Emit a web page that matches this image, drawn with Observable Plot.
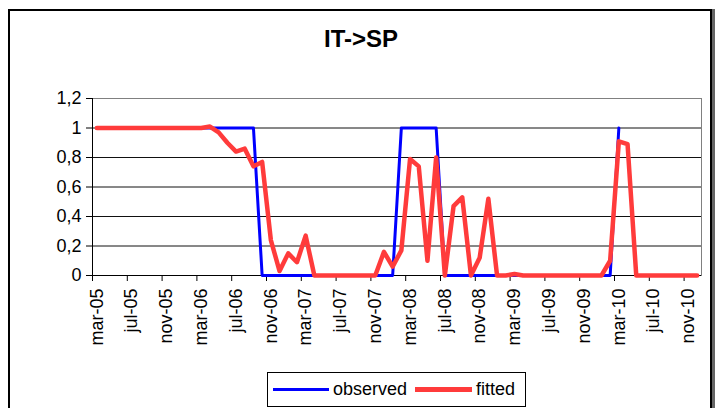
<!DOCTYPE html>
<html>
<head>
<meta charset="utf-8">
<script src="https://cdn.jsdelivr.net/npm/d3@7"></script>
<script src="https://cdn.jsdelivr.net/npm/@observablehq/plot@0.6"></script>
<style>
html, body { margin: 0; padding: 0; background: #fff; width: 724px; height: 408px; overflow: hidden;
  font-family: "Liberation Sans", Arial, sans-serif; }
#frame { position: absolute; left: 8px; top: 9px; width: 704px; height: 430px; border: 2px solid #000;
  box-sizing: border-box; box-shadow: 3px 0 0 #666; }
#title { position: absolute; left: 0; width: 722px; top: 27px; line-height: 24px; text-align: center;
  font-weight: bold; font-size: 24px; color: #000; }
#chart { position: absolute; left: 0; top: 0; }
#legend { position: absolute; left: 267px; top: 372px; width: 259px; height: 35px; border: 1px solid #000;
  box-sizing: border-box; background: #fff; }
.sw { position: absolute; top: 15px; }
.lt { position: absolute; top: 6px; font-size: 18px; line-height: 20px; color: #000; }
</style>
</head>
<body>
<div id="frame"></div>
<div id="title">IT-&gt;SP</div>
<div id="chart"></div>
<div id="legend">
  <div class="sw" style="left:5px;width:56px;height:3px;background:#0000ff;"></div>
  <div class="lt" style="left:65px;">observed</div>
  <div class="sw" style="left:147px;width:57px;height:5px;top:14px;background:#ff3b3b;"></div>
  <div class="lt" style="left:208px;">fitted</div>
</div>
<script>
const months = [
  "mar-05","abr-05","may-05","jun-05","jul-05","ago-05","sep-05","oct-05","nov-05","dic-05",
  "ene-06","feb-06","mar-06","abr-06","may-06","jun-06","jul-06","ago-06","sep-06","oct-06","nov-06","dic-06",
  "ene-07","feb-07","mar-07","abr-07","may-07","jun-07","jul-07","ago-07","sep-07","oct-07","nov-07","dic-07",
  "ene-08","feb-08","mar-08","abr-08","may-08","jun-08","jul-08","ago-08","sep-08","oct-08","nov-08","dic-08",
  "ene-09","feb-09","mar-09","abr-09","may-09","jun-09","jul-09","ago-09","sep-09","oct-09","nov-09","dic-09",
  "ene-10","feb-10","mar-10","abr-10","may-10","jun-10","jul-10","ago-10","sep-10","oct-10","nov-10","dic-10"
];
const observed = [
  1,1,1,1,1,1,1,1,1,1, 1,1,1,1,1,1,1,1,1,
  0,0,0,0,0,0,0,0,0,0, 0,0,0,0,0,0,
  1,1,1,1,1,
  0,0,0,0,0,0,0,0,0,0, 0,0,0,0,0,0,0,0,0,0,
  1,
  null,null,null,null,null,null,null,null,null
];
const fitted = [
  1,1,1,1,1,1,1,1,1,1,1,1,1,
  1.01,0.97,0.90,0.84,0.86,0.74,0.77,0.24,0.03,0.15,0.09,0.27,
  0,0,0,0,0,0,0,0,
  0.16,0.06,0.17,0.79,0.74,0.10,0.80,
  0,0.47,0.53,0,0.12,0.52,0,0,0.01,
  0,0,0,0,0,0,0,0,0,0,
  0.10,0.91,0.89,
  0,0,0,0,0,0,0,0
];
const tickLabels = ["mar-05","jul-05","nov-05","mar-06","jul-06","nov-06","mar-07","jul-07","nov-07",
  "mar-08","jul-08","nov-08","mar-09","jul-09","nov-09","mar-10","jul-10","nov-10"];
const yTicks = [0, 0.2, 0.4, 0.6, 0.8, 1, 1.2];
const yLabels = ["0", "0,2", "0,4", "0,6", "0,8", "1", "1,2"];

const rows = months.map((m, i) => ({ i, m, xc: i + 0.5, obs: observed[i], fit: fitted[i] }));
const labelPos = tickLabels.map(l => months.indexOf(l) + 0.5);
const labelMap = new Map(tickLabels.map((l, k) => [labelPos[k], l]));
const boundaryTicks = tickLabels.map(l => months.indexOf(l));
const yLabelMap = new Map(yTicks.map((t, k) => [t, yLabels[k]]));

const chart = Plot.plot({
  width: 724, height: 360,
  marginLeft: 92, marginRight: 23, marginTop: 98, marginBottom: 85,
  style: { fontFamily: '"Liberation Sans", Arial, sans-serif', fontSize: "18px", color: "#000", background: "transparent", overflow: "visible" },
  x: { domain: [0, months.length], label: null },
  y: { domain: [0, 1.2], label: null },
  marks: [
    Plot.frame({ stroke: "#808080" }),
    Plot.ruleY(yTicks.filter(d => d > 0 && d < 1.2), { stroke: "#111" }),
    Plot.ruleX([0], { stroke: "#000" }),
    Plot.ruleY([0], { stroke: "#000" }),
    Plot.axisY({ ticks: yTicks, tickFormat: d => yLabelMap.get(d), tickSize: 6, tickPadding: 5, label: null }),
    Plot.axisX({ ticks: boundaryTicks, tickFormat: () => "", tickSize: 6, label: null }),
    Plot.axisX({ ticks: labelPos, tickFormat: d => labelMap.get(d), tickSize: 0, tickPadding: 13, tickRotate: -90, label: null }),
    Plot.line(rows, { x: "xc", y: "obs", stroke: "#0000ff", strokeWidth: 3 }),
    Plot.line(rows, { x: "xc", y: "fit", stroke: "#ff3b3b", strokeWidth: 4.5 })
  ]
});
document.getElementById("chart").appendChild(chart);
</script>
</body>
</html>
